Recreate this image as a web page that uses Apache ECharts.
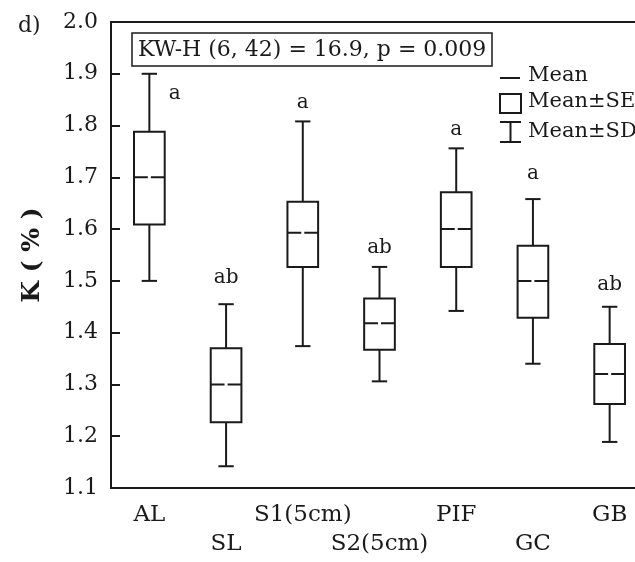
<!DOCTYPE html>
<html>
<head>
<meta charset="utf-8">
<script src="https://cdn.jsdelivr.net/npm/echarts@6/dist/echarts.min.js"></script>
<style>
  html, body { margin: 0; padding: 0; background: #fff; }
  #chart { width: 635px; height: 562px; }
</style>
</head>
<body>
<div id="chart"></div>
<script>
// 样地类别
const categories = ['AL', 'SL', 'S1(5cm)', 'S2(5cm)', 'PIF', 'GC', 'GB'];
// K (%) 均值、标准误、标准差范围
const meanVals = [1.70, 1.30, 1.593, 1.418, 1.60, 1.50, 1.32];
const seLow = [1.609, 1.227, 1.527, 1.367, 1.527, 1.429, 1.262];
const seHigh = [1.788, 1.370, 1.653, 1.466, 1.671, 1.568, 1.378];
const sdLow = [1.50, 1.142, 1.374, 1.306, 1.442, 1.340, 1.189];
const sdHigh = [1.90, 1.455, 1.808, 1.527, 1.756, 1.658, 1.450];
// 显著性字母
const letters = ['a', 'ab', 'a', 'ab', 'a', 'a', 'ab'];
const letterY = [1.861, 1.506, 1.844, 1.563, 1.792, 1.706, 1.492];

const serif = 'DejaVu Serif';
const ink = '#1a1a1a';

const boxData = categories.map((c, i) => [i, sdLow[i], seLow[i], meanVals[i], seHigh[i], sdHigh[i]]);
const letterData = categories.map((c, i) => [i, letterY[i], letters[i]]);

const myChart = echarts.init(document.getElementById('chart'));

const option = {
  backgroundColor: '#fff',
  animation: false,
  title: {
    text: 'KW-H (6, 42) = 16.9, p = 0.009',
    left: 132,
    top: 33,
    padding: [6, 6, 5, 6],
    borderColor: ink,
    borderWidth: 1.5,
    textStyle: {
      fontFamily: serif,
      fontWeight: 'normal',
      fontSize: 22,
      color: ink,
    },
  },
  grid: {
    left: 111,
    top: 22,
    width: 537,
    height: 466,
    outerBoundsMode: 'none',
    containLabel: false,
    show: true,
    borderColor: ink,
    borderWidth: 2,
  },
  xAxis: {
    type: 'category',
    data: categories,
    boundaryGap: true,
    axisLine: { lineStyle: { color: ink, width: 2 } },
    axisTick: {
      alignWithLabel: true,
      inside: true,
      length: 9,
      lineStyle: { color: ink, width: 2 },
    },
    axisLabel: {
      interval: 0,
      margin: 13,
      fontFamily: serif,
      fontSize: 23,
      color: ink,
      lineHeight: 29,
      formatter: function (value, index) {
        // 标签上下交错排列
        return index % 2 === 1 ? '\n' + value : value;
      },
    },
    splitLine: { show: false },
  },
  yAxis: {
    type: 'value',
    min: 1.1,
    max: 2.0,
    interval: 0.1,
    name: 'K ( % )',
    nameLocation: 'middle',
    nameGap: 66,
    nameTextStyle: {
      fontFamily: serif,
      fontWeight: 'bold',
      fontSize: 25,
      color: ink,
    },
    axisLine: { show: true, lineStyle: { color: ink, width: 2 } },
    axisTick: {
      show: true,
      inside: true,
      length: 9,
      lineStyle: { color: ink, width: 2 },
    },
    axisLabel: {
      margin: 13,
      fontFamily: serif,
      fontSize: 22,
      color: ink,
      formatter: (v) => v.toFixed(1),
    },
    splitLine: { show: false },
  },
  graphic: [
    {
      type: 'text',
      left: 18,
      top: 15,
      style: { text: 'd)', fontFamily: serif, fontSize: 22, fill: ink },
    },
    // 图例
    {
      type: 'line',
      shape: { x1: 500, y1: 78, x2: 520, y2: 78 },
      style: { stroke: ink, lineWidth: 2 },
    },
    {
      type: 'text',
      left: 528,
      top: 65,
      style: { text: 'Mean', fontFamily: serif, fontSize: 21, fill: ink },
    },
    {
      type: 'rect',
      shape: { x: 500, y: 94, width: 21, height: 19 },
      style: { stroke: ink, fill: '#fff', lineWidth: 2 },
    },
    {
      type: 'text',
      left: 528,
      top: 91,
      style: { text: 'Mean±SE', fontFamily: serif, fontSize: 21, fill: ink },
    },
    {
      type: 'polyline',
      shape: { points: [[500, 122], [521, 122]] },
      style: { stroke: ink, lineWidth: 2 },
    },
    {
      type: 'polyline',
      shape: { points: [[510.5, 122], [510.5, 142]] },
      style: { stroke: ink, lineWidth: 2 },
    },
    {
      type: 'polyline',
      shape: { points: [[500, 142], [521, 142]] },
      style: { stroke: ink, lineWidth: 2 },
    },
    {
      type: 'text',
      left: 528,
      top: 121,
      style: { text: 'Mean±SD', fontFamily: serif, fontSize: 21, fill: ink },
    },
  ],
  series: [
    {
      type: 'custom',
      data: boxData,
      encode: { x: 0, y: [1, 2, 3, 4, 5] },
      renderItem: function (params, api) {
        const i = api.value(0);
        const band = api.size([1, 0])[0];
        const boxW = band * 0.4;
        const capW = band * 0.2;
        const x = api.coord([i, 0])[0];
        const ySdL = api.coord([i, api.value(1)])[1];
        const ySeL = api.coord([i, api.value(2)])[1];
        const yMean = api.coord([i, api.value(3)])[1];
        const ySeH = api.coord([i, api.value(4)])[1];
        const ySdH = api.coord([i, api.value(5)])[1];
        const st = { stroke: ink, lineWidth: 2, fill: 'none' };
        return {
          type: 'group',
          children: [
            { type: 'line', shape: { x1: x, y1: ySdH, x2: x, y2: ySeH }, style: st },
            { type: 'line', shape: { x1: x, y1: ySeL, x2: x, y2: ySdL }, style: st },
            { type: 'line', shape: { x1: x - capW / 2, y1: ySdH, x2: x + capW / 2, y2: ySdH }, style: st },
            { type: 'line', shape: { x1: x - capW / 2, y1: ySdL, x2: x + capW / 2, y2: ySdL }, style: st },
            {
              type: 'rect',
              shape: { x: x - boxW / 2, y: ySeH, width: boxW, height: ySeL - ySeH },
              style: { stroke: ink, lineWidth: 2, fill: '#fff' },
            },
            {
              type: 'line',
              shape: { x1: x - boxW / 2, y1: yMean, x2: x + boxW / 2, y2: yMean },
              style: { stroke: ink, lineWidth: 2, lineDash: [boxW / 2 - 1.5, 3] },
            },
          ],
        };
      },
      z: 3,
    },
    {
      type: 'custom',
      data: letterData,
      encode: { x: 0, y: 1 },
      renderItem: function (params, api) {
        const i = api.value(0);
        const p = api.coord([i, api.value(1)]);
        // AL 的字母写在须线右侧
        const dx = i === 0 ? api.size([1, 0])[0] * 0.33 : 0;
        return {
          type: 'text',
          x: p[0] + dx,
          y: p[1],
          style: {
            text: letterData[params.dataIndex][2],
            fontFamily: serif,
            fontSize: 20,
            fill: ink,
            align: 'center',
            verticalAlign: 'middle',
          },
        };
      },
      z: 4,
    },
  ],
};

myChart.setOption(option);
window.addEventListener('resize', () => {
  myChart.resize();
});
</script>
</body>
</html>
